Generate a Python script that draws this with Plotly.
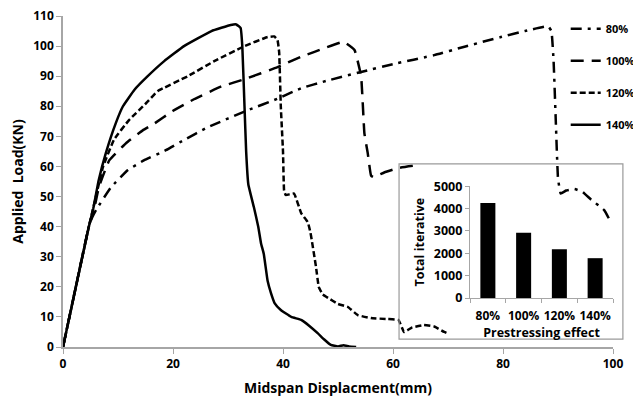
import plotly.graph_objects as go

# ---- data ----
x_80 = [0, 4.7, 5.3, 6.0, 8.7, 11.8, 14.7, 18.7, 22.0, 26.3, 33.6, 39.0, 43.3, 48.0, 54.2, 60.0, 67.5, 73.0, 79.6, 84.0, 88.2,
        88.8, 89.2, 89.6, 90.0, 90.5, 91.5, 93.0, 94.5, 96.0, 98.4, 99.6]
y_80 = [0, 40, 43, 45.5, 53, 58.8, 62, 65.4, 68.8, 73, 78.7, 82.5, 86, 88.5, 91.4, 94, 97, 99.8, 103, 105, 106.6,
        105, 95, 75, 56, 51, 52, 52.5, 51.5, 49, 45.5, 41.5]

x_100 = [0, 4.7, 5.8, 6.5, 8.4, 11.5, 14.5, 16.4, 20.0, 24.0, 28.7, 33.0, 39.0, 43.3, 45.6, 51.0, 53.0, 54.2, 54.8, 55.4,
         56.0, 56.4, 58.4, 61.0, 64.7]
y_100 = [0, 40, 47, 53, 62, 67.8, 72, 74, 78.5, 82.5, 86.5, 89, 93, 96.5, 98, 101.4, 98.7, 90, 71, 64.5,
         57, 56.5, 58, 59.5, 60.5]

x_120 = [0, 4.7, 5.6, 7.3, 9.3, 12.0, 15.1, 17.2, 22.7, 27.5, 33.0, 37.2, 38.4, 39.0, 39.3, 39.6, 40.0, 40.2, 40.5, 42.0,
         43.3, 44.5, 45.0, 46.0, 46.5, 47.2, 48.2, 50.0, 51.8, 53.6, 56.0, 59.0, 61.0, 62.0, 63.5, 65.6, 67.5, 69.3, 70.0]
y_120 = [0, 40, 47, 60, 69, 75.4, 81, 85, 90, 95, 100, 103, 103.2, 102, 98, 80, 65, 52, 50.5, 51,
         44.5, 41.5, 38, 26.6, 20, 17.5, 16.3, 14.3, 13.3, 10.6, 9.6, 9.3, 9, 5, 6.5, 7.3, 6.8, 5, 4.5]

x_140 = [0, 4.7, 5.5, 6.5, 7.8, 9.6, 10.9, 13.0, 15.4, 18.4, 22.0, 27.0, 30.5, 31.5, 32.3, 32.6, 33.0, 33.3, 33.7, 34.7,
         35.5, 36.0, 36.5, 37.2, 37.8, 38.5, 39.6, 41.5, 43.3, 44.8, 46.3, 47.5, 48.7, 50.0, 51.0, 52.0, 53.3]
y_140 = [0, 40, 46, 55.5, 64.5, 74.4, 80, 85.5, 90, 95, 100, 105, 107, 107.2, 106, 100, 80, 65, 54, 46.5,
         40, 34.5, 31, 22, 18, 14.5, 12.3, 10, 9, 7, 4.6, 2.5, 0.7, 0.2, 0.6, 0.2, 0]

bar_cats = ["80%", "100%", "120%", "140%"]
bar_vals = [4250, 2920, 2180, 1780]

x_ticks = [0, 20, 40, 60, 80, 100]
y_ticks = [0, 10, 20, 30, 40, 50, 60, 70, 80, 90, 100, 110]
inset_y_ticks = [0, 1000, 2000, 3000, 4000, 5000]

FONT = "Open Sans"
BOLD = "bold"
fig = go.Figure()

series = [
    ("80%", x_80, y_80, "11px,6px,3px,6px"),
    ("100%", x_100, y_100, "13px,8px"),
    ("120%", x_120, y_120, "6px,3px"),
    ("140%", x_140, y_140, "solid"),
]
for name, xs, ys, dash in series:
    fig.add_trace(go.Scatter(
        x=xs, y=ys, mode="lines", name=name, legendgroup=name,
        line=dict(color="black", width=2.5, dash=dash, shape="spline", smoothing=0.3),
        xaxis="x", yaxis="y"))

fig.add_trace(go.Bar(
    x=bar_cats, y=bar_vals, marker=dict(color="black", line=dict(width=0)),
    width=0.42, showlegend=False, xaxis="x2", yaxis="y2"))

axis_line = "#a6a6a6"
fig.update_layout(
    width=633, height=403,
    margin=dict(l=63, r=20, t=16, b=56, autoexpand=False),
    paper_bgcolor="white", plot_bgcolor="rgba(0,0,0,0)",
    font=dict(family=FONT, color="black"),
    showlegend=True,
    legend=dict(x=0.914, y=1.005, xanchor="left", yanchor="top",
                bgcolor="rgba(0,0,0,0)", font=dict(size=11, family=FONT, color="black", weight=BOLD),
                traceorder="grouped", tracegroupgap=13, itemwidth=30,
                itemclick=False),
    xaxis=dict(range=[0, 100], tickvals=x_ticks, showgrid=False, zeroline=False,
               showline=True, linecolor=axis_line, linewidth=1.5,
               ticks="outside", ticklen=5, tickcolor=axis_line,
               tickfont=dict(size=12, family=FONT, weight=BOLD),
               title=dict(text="Midspan Displacment(mm)", font=dict(size=14, family=FONT, weight=BOLD),
                          standoff=12)),
    yaxis=dict(range=[0, 110], tickvals=y_ticks, showgrid=False, zeroline=False,
               showline=True, linecolor=axis_line, linewidth=1.5,
               ticks="outside", ticklen=5, tickcolor=axis_line,
               tickfont=dict(size=12, family=FONT, weight=BOLD),
               title=dict(text="Applied  Load(KN)", font=dict(size=14, family=FONT, weight=BOLD),
                          standoff=6)),
    xaxis2=dict(domain=[0.740, 1.0], anchor="y2", showgrid=False, zeroline=False,
                showline=True, linecolor=axis_line, linewidth=1.2, tickangle=0,
                ticks="outside", ticklen=4, tickcolor=axis_line, tickson="boundaries",
                ticklabelstandoff=6,
                tickfont=dict(size=12, family=FONT, weight=BOLD),
                title=dict(text="Prestressing effect", font=dict(size=12.5, family=FONT, weight=BOLD),
                           standoff=0)),
    yaxis2=dict(domain=[0.148, 0.486], anchor="x2", range=[0, 5000], tickvals=inset_y_ticks,
                showgrid=False, zeroline=False,
                showline=True, linecolor=axis_line, linewidth=1.2,
                ticks="outside", ticklen=4, tickcolor=axis_line,
                tickfont=dict(size=12.5, family=FONT, weight=BOLD),
                title=dict(text="Total iterative", font=dict(size=12.5, family=FONT, weight=BOLD),
                           standoff=6)),
    shapes=[dict(type="rect", xref="paper", yref="paper", x0=0.611, x1=1.018, y0=0.024, y1=0.553,
                 line=dict(color="#9a9a9a", width=1.2), fillcolor="rgba(0,0,0,0)")],
)

fig.write_html("out.html")
